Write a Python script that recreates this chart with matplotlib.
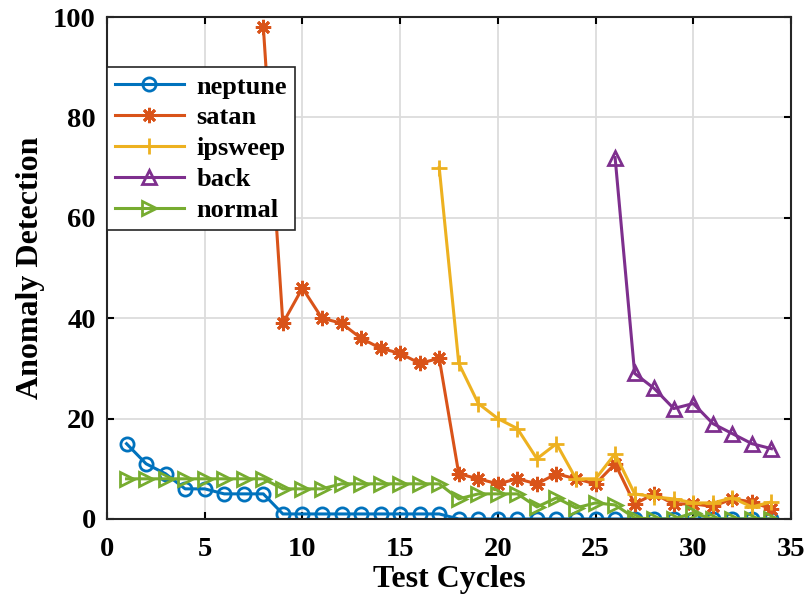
import matplotlib
matplotlib.use("Agg")
import matplotlib.pyplot as plt

plt.rcParams['font.family'] = ['Liberation Serif', 'DejaVu Serif']
plt.rcParams['font.weight'] = 'bold'

x_neptune = list(range(1, 35))
neptune = [15, 11, 9, 6, 6, 5, 5, 5, 1, 1, 1, 1, 1, 1, 1, 1, 1,
           0, 0, 0, 0, 0, 0, 0, 0, 0, 0, 0, 0, 0, 0, 0, 0, 0]
x_satan = list(range(8, 35))
satan = [98, 39, 46, 40, 39, 36, 34, 33, 31, 32, 9, 8, 7, 8, 7, 9, 8, 7, 11,
         3, 5, 3, 3, 2.5, 4, 3.4, 2]
x_ipsweep = list(range(17, 35))
ipsweep = [70, 31, 23, 20, 18, 12, 15, 8, 8, 13, 5, 4.4, 4, 3.2, 3.2, 4.2, 2.4, 3.4]
x_back = list(range(26, 35))
back = [72, 29, 26, 22, 23, 19, 17, 15, 14]
x_normal = list(range(1, 35))
normal = [8, 8, 8, 8, 8, 8, 8, 8, 6, 6, 6, 7, 7, 7, 7, 7, 7, 4, 5, 5, 5, 2.4, 4.2,
          2.2, 3.2, 2.8, 0.2, 0, 0, 1.2, 0, 0, 0, 0]

labels = ['neptune', 'satan', 'ipsweep', 'back', 'normal']
colors = ['#0072BD', '#D95319', '#EDB120', '#7E2F8E', '#77AC30']
markers = ['o', (8, 2, 0), '+', '^', '>']
xs = [x_neptune, x_satan, x_ipsweep, x_back, x_normal]
ys = [neptune, satan, ipsweep, back, normal]

fig = plt.figure(figsize=(8.05, 5.99), dpi=100)
ax = fig.add_axes([0.1329, 0.1336, 0.8497, 0.838])

for xv, yv, lab, c, m in zip(xs, ys, labels, colors, markers):
    ms = 11 if m in ('+', (8, 2, 0)) else 9.5
    ax.plot(xv, yv, color=c, lw=2.2, marker=m, markersize=ms,
            markerfacecolor='none', markeredgecolor=c, markeredgewidth=2.0,
            label=lab)

ax.set_xlim(0, 35)
ax.set_ylim(0, 100)
ax.set_xticks(range(0, 36, 5))
ax.set_yticks(range(0, 101, 20))
ax.grid(True, color='#dcdcdc', lw=1.3)
ax.set_axisbelow(True)
ax.tick_params(direction='in', top=True, right=True, length=5, width=1.5,
               labelsize=20.5)
ax.tick_params(axis='x', pad=13)
ax.tick_params(axis='y', pad=8)
for lbl in ax.get_xticklabels() + ax.get_yticklabels():
    lbl.set_fontweight('bold')
for s in ax.spines.values():
    s.set_linewidth(1.5)
    s.set_color('#262626')

ax.set_xlabel('Test Cycles', fontsize=23, fontweight='bold', labelpad=2)
ax.set_ylabel('Anomaly Detection', fontsize=23, fontweight='bold', labelpad=6)

leg = ax.legend(loc='upper left', bbox_to_anchor=(0.0, 0.9), fontsize=19,
                frameon=True, fancybox=False, framealpha=1, edgecolor='#262626',
                handlelength=2.6, borderpad=0.3, labelspacing=0.28,
                handletextpad=0.5, borderaxespad=0)
leg.get_frame().set_linewidth(1.2)
for t in leg.get_texts():
    t.set_fontweight('bold')

fig.savefig('out.png', dpi=100)
